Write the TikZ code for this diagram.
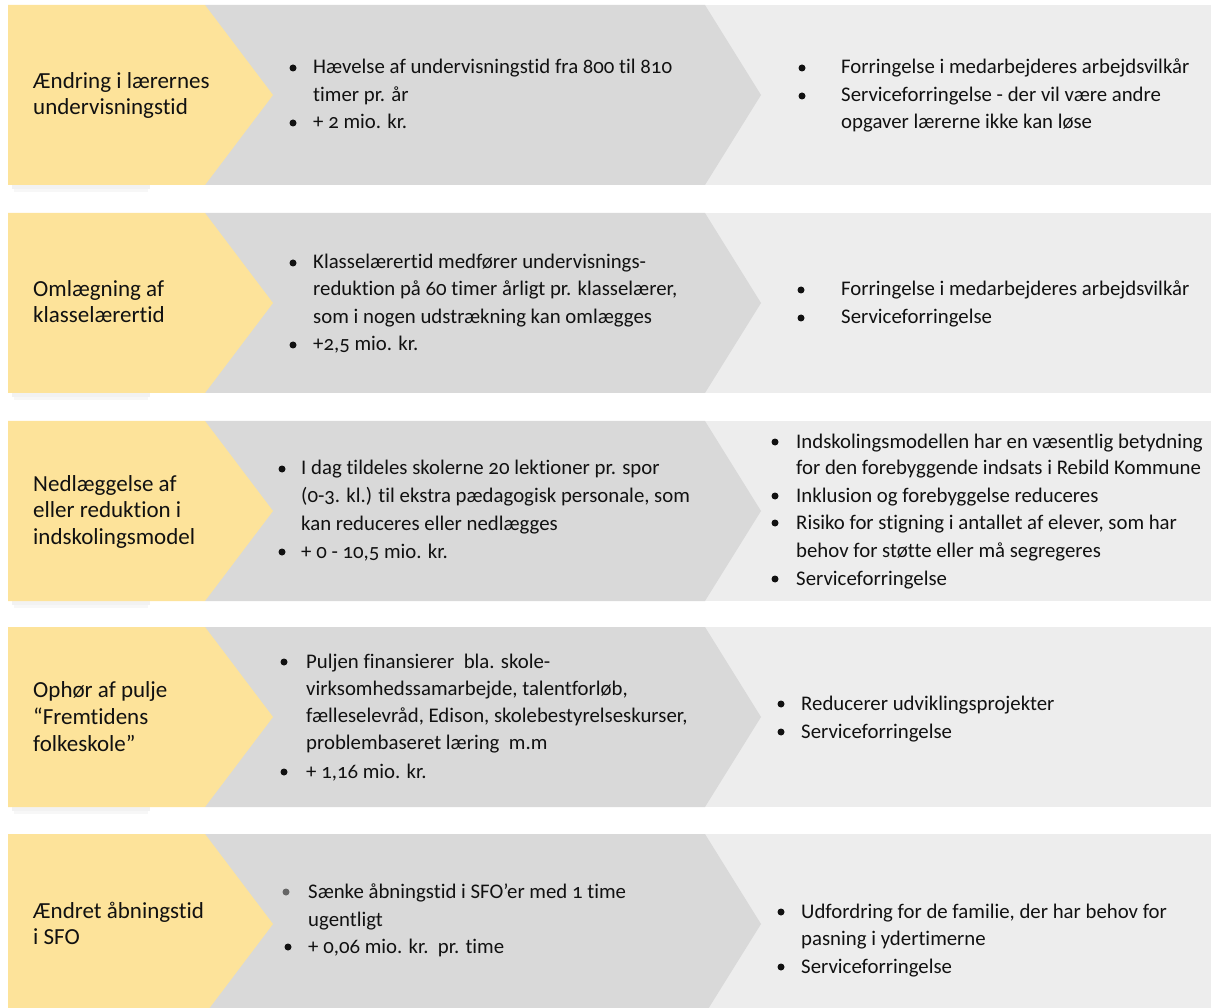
\documentclass[tikz,border=0pt]{standalone}
\usepackage{fontspec}
\setmainfont{Carlito}[Numbers=OldStyle, Ligatures=NoCommon]
\definecolor{ylw}{HTML}{FDE39A}
\definecolor{midg}{HTML}{D9D9D9}
\definecolor{lgtg}{HTML}{EDEDED}
\definecolor{ink}{HTML}{111111}
\newcommand\tl[4]{\node[txt] (#1) at (#2,#3) {#4};}
\newcommand\hl[4]{\node[txt, head] (#1) at (#2,#3) {#4};}
\newcommand\bu[3]{\node[bul] (#1) at (#2,#3) {};}
\begin{document}
\begin{tikzpicture}[x=1pt,y=-1pt,
  txt/.style={inner sep=0pt, anchor=base west, text=ink, font=\fontsize{20.8}{27}\selectfont},
  head/.style={font=\fontsize{23}{27}\selectfont},
  bul/.style={circle, fill=ink, inner sep=0pt, minimum size=7pt},
  yshape/.style={fill=ylw}]
\useasboundingbox (0,0) rectangle (1211,1008);
\clip (0,0) rectangle (1211,1008);
\foreach \t in {5,213,421,627,834}{
  \fill[lgtg] (700,\t) rectangle (1211,\t+180);
  \fill[midg] (205,\t) -- (705,\t) -- (761,\t+90) -- (705,\t+180) -- (205,\t+180) -- cycle;
  \fill[black, opacity=0.05] (12,\t+180) rectangle (150,\t+184);
  \fill[black, opacity=0.03] (14,\t+184) rectangle (148,\t+187);
  \path[yshape] (8,\t) -- (205,\t) -- (273,\t+90) -- (205,\t+180) -- (8,\t+180) -- cycle;
}
% Row 1
\hl{l1a}{33}{89}{Ændring i lærernes}
\hl{l1b}{33}{115}{undervisningstid}
\bu{b1a}{293}{68}
\tl{m1a}{313}{74}{Hævelse af undervisningstid fra 800 til 810}
\tl{m1b}{313}{102}{timer pr. år}
\bu{b1b}{293}{123}
\tl{m1c}{313}{129}{+ 2 mio. kr.}
\bu{r1a}{802}{68}
\tl{s1a}{841}{74}{Forringelse i medarbejderes arbejdsvilkår}
\bu{r1b}{802}{96}
\tl{s1b}{841}{102}{Serviceforringelse - der vil være andre}
\tl{s1c}{841}{129}{opgaver lærerne ikke kan løse}
% Row 2
\hl{l2a}{33}{297}{Omlægning af}
\hl{l2b}{33}{323}{klasselærertid}
\bu{b2a}{293}{263}
\tl{m2a}{313}{269}{Klasselærertid medfører undervisnings-}
\tl{m2b}{313}{296}{reduktion på 60 timer årligt pr. klasselærer,}
\tl{m2c}{313}{324}{som i nogen udstrækning kan omlægges}
\bu{b2b}{293}{345}
\tl{m2d}{313}{351}{+2,5 mio. kr.}
\bu{r2a}{801}{290}
\tl{s2a}{841}{296}{Forringelse i medarbejderes arbejdsvilkår}
\bu{r2b}{801}{318}
\tl{s2b}{841}{324}{Serviceforringelse}
% Row 3
\hl{l3a}{33}{491}{Nedlæggelse af}
\hl{l3b}{33}{517}{eller reduktion i}
\hl{l3c}{33}{544}{indskolingsmodel}
\bu{b3a}{282}{469}
\tl{m3a}{301}{475}{I dag tildeles skolerne 20 lektioner pr. spor}
\tl{m3b}{301}{502}{(0-3. kl.) til ekstra pædagogisk personale, som}
\tl{m3c}{301}{530}{kan reduceres eller nedlægges}
\bu{b3b}{282}{552}
\tl{m3d}{301}{558}{+ 0 - 10,5 mio. kr.}
\bu{r3a}{775}{442}
\tl{s3a}{796}{448}{Indskolingsmodellen har en væsentlig betydning}
\tl{s3b}{796}{475}{for den forebyggende indsats i Rebild Kommune}
\bu{r3b}{775}{496}
\tl{s3c}{796}{502}{Inklusion og forebyggelse reduceres}
\bu{r3c}{775}{523}
\tl{s3d}{796}{529}{Risiko for stigning i antallet af elever, som har}
\tl{s3e}{796}{557}{behov for støtte eller må segregeres}
\bu{r3d}{775}{579}
\tl{s3f}{796}{585}{Serviceforringelse}
% Row 4
\hl{l4a}{33}{697}{Ophør af pulje}
\hl{l4b}{33}{724}{“Fremtidens}
\hl{l4c}{33}{751}{folkeskole”}
\bu{b4a}{284}{662}
\tl{m4a}{306}{668}{Puljen finansierer\ \ bla. skole-}
\tl{m4b}{306}{695}{virksomhedssamarbejde, talentforløb,}
\tl{m4c}{306}{722}{fælleselevråd, Edison, skolebestyrelseskurser,}
\tl{m4d}{306}{749}{problembaseret læring\ \ m.m}
\bu{b4b}{284}{772}
\tl{m4e}{306}{778}{+ 1,16 mio. kr.}
\bu{r4a}{781}{704}
\tl{s4a}{801}{710}{Reducerer udviklingsprojekter}
\bu{r4b}{781}{732}
\tl{s4b}{801}{738}{Serviceforringelse}
% Row 5
\hl{l5a}{33}{918}{Ændret åbningstid}
\hl{l5b}{33}{944}{i SFO}
\node[bul, fill=black!60] (b5a) at (286,892) {};
\tl{m5a}{308}{898}{Sænke åbningstid i SFO’er med 1 time}
\tl{m5b}{308}{926}{ugentligt}
\bu{b5b}{288}{947}
\tl{m5c}{308}{953}{+ 0,06 mio. kr.\ \ pr. time}
\bu{r5a}{781}{912}
\tl{s5a}{801}{918}{Udfordring for de familie, der har behov for}
\tl{s5b}{801}{945}{pasning i ydertimerne}
\bu{r5b}{781}{967}
\tl{s5c}{801}{973}{Serviceforringelse}
\end{tikzpicture}
\end{document}
